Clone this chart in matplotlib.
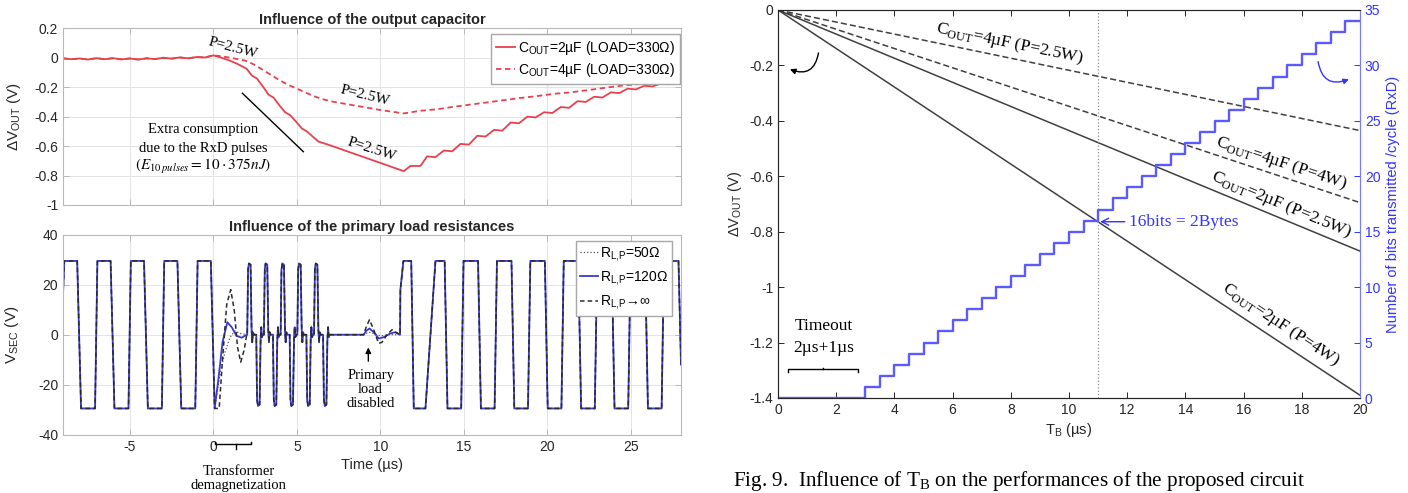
import numpy as np
import matplotlib
matplotlib.use("Agg")
import matplotlib.pyplot as plt

plt.rcParams["font.family"] = ["Liberation Sans", "DejaVu Sans"]
plt.rcParams["axes.unicode_minus"] = False
plt.rcParams["xtick.direction"] = "in"
plt.rcParams["ytick.direction"] = "in"

SERIF = ["Liberation Serif", "DejaVu Serif"]
RED = "#e8414e"
BLUE = "#3a3ad0"
BITS_BLUE = "#5a5aff"
AX_BLUE = "#3333ff"
TXT = "#262626"

# ---- top-left: influence of the output capacitor (dV_OUT in V vs time in us) ----
t_2uF = [-9, -8.5, -8, -7.5, -7, -6.5, -6, -5.5, -5, -4.5, -4, -3.5, -3, -2.5, -2, -1.5, -1, -0.5, 0,
         0.5, 1.0, 1.5, 2.0, 2.3, 2.6, 3.0, 3.3, 3.6, 4.0, 4.3, 4.6, 5.0, 5.3, 5.6, 6.0, 6.3, 6.6, 7.0,
         11.4, 11.8, 12.4, 12.8, 13.3, 13.8, 14.3, 14.8, 15.3, 15.8, 16.3, 16.8, 17.3, 17.8, 18.3,
         18.8, 19.3, 19.8, 20.3, 20.8, 21.3, 21.8, 22.3, 22.8, 23.3, 23.8, 24.3, 24.8, 25.3, 25.8,
         26.3, 26.8, 27.3, 27.8, 28.0]
dv_2uF = [-0.004, -0.01, -0.005, -0.012, -0.003, -0.01, -0.003, -0.011, -0.005, -0.012, -0.004, -0.009,
          0.0, -0.006, 0.002, -0.004, 0.005, 0.002, 0.016,
          0.0, -0.02, -0.045, -0.075, -0.12, -0.14, -0.2, -0.25, -0.27, -0.33, -0.37, -0.39, -0.44, -0.48,
          -0.5, -0.54, -0.57, -0.58, -0.595,
          -0.77, -0.735, -0.735, -0.67, -0.675, -0.63, -0.635, -0.585, -0.59, -0.53, -0.535, -0.49, -0.495,
          -0.44, -0.445, -0.4, -0.405, -0.37, -0.375, -0.335, -0.34, -0.295, -0.3, -0.265, -0.27, -0.235,
          -0.24, -0.21, -0.215, -0.19, -0.195, -0.175, -0.18, -0.16, -0.16]
t_4uF = [-9, -8.5, -8, -7.5, -7, -6.5, -6, -5.5, -5, -4.5, -4, -3.5, -3, -2.5, -2, -1.5, -1, -0.5, 0,
         0.5, 1.0, 1.5, 2.0, 2.5, 3.0, 3.5, 4.0, 4.5, 5.0, 5.5, 6.0, 6.5, 7.0, 8.0, 9.0, 10.0, 11.4,
         12.4, 13.4, 14.4, 15.4, 16.4, 17.4, 18.4, 19.4, 20.4, 21.4, 22.4, 23.4, 24.4, 25.4, 26.4, 27.4, 28.0]
dv_4uF = [-0.004, -0.01, -0.005, -0.012, -0.003, -0.01, -0.003, -0.011, -0.005, -0.012, -0.004, -0.009,
          0.0, -0.006, 0.002, -0.004, 0.005, 0.002, 0.016,
          0.01, 0.0, -0.01, -0.022, -0.05, -0.085, -0.12, -0.155, -0.185, -0.21, -0.235, -0.26, -0.28,
          -0.295, -0.315, -0.335, -0.355, -0.378,
          -0.36, -0.35, -0.333, -0.318, -0.303, -0.288, -0.273, -0.26, -0.245, -0.235, -0.22, -0.205,
          -0.19, -0.18, -0.165, -0.15, -0.14]

# ---- bottom-left: secondary voltage V_SEC (V) vs time (us) ----
t_pre = [-9.0, -8.92, -8.15, -7.92, -7.08, -6.94, -6.15, -5.92, -5.08, -4.94, -4.15, -3.92, -3.08, -2.94,
         -2.15, -1.92, -1.08, -0.94, -0.15, 0.08]
v_pre = [16, 29.5, 29.5, -29.5, -29.5, 29.5, 29.5, -29.5, -29.5, 29.5, 29.5, -29.5, -29.5, 29.5, 29.5,
         -29.5, -29.5, 29.5, 29.5, -29.5]

# RxD pulses: start times and pulse shape (offset in us, level in V)
pos_starts = [2.03, 3.03, 4.03, 5.03, 6.03]
neg_starts = [2.57, 3.57, 4.57, 5.57, 6.57]
pulse_dt = [0.0, 0.05, 0.1, 0.2, 0.26, 0.3, 0.34, 0.4]
pulse_v = [0.0, 26.0, 28.5, 28.0, 2.0, -3.0, 1.0, 0.0]

t_post = [11.18, 11.2, 11.38, 11.85, 12.0, 12.7, 13.3, 13.85, 14.02, 14.84, 14.98, 15.85, 16.02, 16.84,
          16.98, 17.85, 18.02, 18.84, 18.98, 19.85, 20.02, 20.84, 20.98, 21.85, 22.02, 22.84, 22.98,
          23.85, 24.02, 24.84, 24.98, 25.85, 26.02, 26.84, 26.98, 27.85, 28.0]
v_post = [0, 18, 29.5, 29.5, -29.5, -29.5, 29.5,
          29.5, -29.5, -29.5, 29.5, 29.5, -29.5, -29.5, 29.5, 29.5, -29.5, -29.5, 29.5,
          29.5, -29.5, -29.5, 29.5, 29.5, -29.5, -29.5, 29.5, 29.5, -29.5, -29.5, 29.5,
          29.5, -29.5, -29.5, 29.5, 29.5, -12]

# ringing after the transformer demagnetization (0..2 us) and when load is disabled (7..11.2 us)
ring1_t_50 = [0.08, 0.25, 0.45, 0.7, 1.0, 1.3, 1.6, 2.0]
ring1_v_50 = [-29.5, -22, -14, -7, -1, 1.5, 0.5, 0]
ring1_t_120 = [0.08, 0.3, 0.55, 0.84, 1.1, 1.4, 1.7, 2.0]
ring1_v_120 = [-29.5, -18, -3, 5, 3, -0.5, -1.2, 0]
ring1_t_inf = [0.08, 0.35, 0.55, 0.8, 1.04, 1.25, 1.45, 1.64, 1.85, 2.0]
ring1_v_inf = [-29.5, -29.5, -10, 12, 18, 10, -5, -11, -6, 0]

ring2_t_50 = [7.0, 9.0, 9.3, 9.6, 10.0, 10.5, 11.18]
ring2_v_50 = [0, 0, 1, 0.5, -0.5, 0, 0]
ring2_t_120 = [7.0, 9.0, 9.15, 9.35, 9.6, 9.9, 10.2, 10.6, 10.9, 11.18]
ring2_v_120 = [0, 0, 1.5, 2.5, 1, -1.5, -1, 0.5, 1, 0]
ring2_t_inf = [7.0, 9.0, 9.15, 9.35, 9.6, 9.9, 10.1, 10.4, 10.7, 10.9, 11.18]
ring2_v_inf = [0, 0, 3, 6, 2, -3.5, -3, 0, 2, 1, 0]

# ---- right: influence of T_B ----
tb_lin = [0, 20]
dv_4uF_25W = [0, -0.435]
dv_4uF_4W = [0, -0.695]
dv_2uF_25W = [0, -0.87]
dv_2uF_4W = [0, -1.39]
tb_step = [0, 3.0, 3.5, 4.0, 4.5, 5.0, 5.5, 6.0, 6.5, 7.0, 7.5, 8.0, 8.5, 9.0, 9.5, 10.0, 10.5, 11.0,
           11.5, 12.0, 12.5, 13.0, 13.5, 14.0, 14.5, 15.0, 15.5, 16.0, 16.5, 17.0, 17.5, 18.0, 18.5,
           19.0, 19.5, 20.0]
bits = [0, 1, 2, 3, 4, 5, 6, 7, 8, 9, 10, 11, 12, 13, 14, 15, 16, 17, 18, 19, 20, 21, 22, 23, 24, 25,
        26, 27, 28, 29, 30, 31, 32, 33, 34, 34]


def build_vsec(r1_t, r1_v, r2_t, r2_v):
    t = list(t_pre) + list(r1_t[1:])
    v = list(v_pre) + list(r1_v[1:])
    for s in sorted(pos_starts + neg_starts):
        sign = 1 if s in pos_starts else -1
        t += [s + d for d in pulse_dt]
        v += [sign * p for p in pulse_v]
    t += list(r2_t) + list(t_post[1:])
    v += list(r2_v) + list(v_post[1:])
    return t, v


W, H = 1408, 493


def box(l, t, r, b):
    return [l / W, 1 - b / H, (r - l) / W, (b - t) / H]


def matlab_style(ax, edge="#b8b8b8"):
    for sp in ax.spines.values():
        sp.set_color(edge)
        sp.set_linewidth(0.8)
    ax.tick_params(top=True, right=True, length=4, width=0.7, color=edge,
                   labelsize=10, labelcolor=TXT)
    ax.grid(True, color="#e4e4e4", lw=0.7)
    ax.set_axisbelow(True)


fig = plt.figure(figsize=(14.08, 4.93), dpi=100)

# ---------------- top-left ----------------
axc = fig.add_axes(box(63, 28.3, 681, 205))
axc.plot(t_2uF, dv_2uF, color=RED, lw=1.3, label="C$_\\mathregular{OUT}$=2µF (LOAD=330Ω)")
axc.plot(t_4uF, dv_4uF, color=RED, lw=1.3, ls=(0, (3, 2)), label="C$_\\mathregular{OUT}$=4µF (LOAD=330Ω)")
axc.set_xlim(-9, 28)
axc.set_ylim(-1, 0.2)
axc.set_xticks([-5, 0, 5, 10, 15, 20, 25])
axc.set_xticklabels([])
axc.set_yticks([0.2, 0, -0.2, -0.4, -0.6, -0.8, -1])
axc.set_yticklabels(["0.2", "0", "-0.2", "-0.4", "-0.6", "-0.8", "-1"])
matlab_style(axc)
axc.set_title("Influence of the output capacitor", fontsize=10.5, fontweight="bold", pad=3, color=TXT)
axc.set_ylabel("ΔV$_\\mathregular{OUT}$ (V)", fontsize=11, color=TXT, labelpad=8)
axc.legend(loc="upper right", bbox_to_anchor=(0.998, 0.965), fontsize=10, frameon=True,
           fancybox=False, edgecolor="#a8a8a8", framealpha=1, handlelength=1.4,
           handletextpad=0.2, labelspacing=0.25, borderpad=0.35, borderaxespad=0)

axc.text(1.17, 0.064, "P=2.5W", family=SERIF, fontsize=11, rotation=-15,
         ha="center", va="center", rotation_mode="anchor")
axc.text(9.1, -0.255, "P=2.5W", family=SERIF, fontsize=11, rotation=-14,
         ha="center", va="center", rotation_mode="anchor")
axc.text(9.46, -0.622, "P=2.5W", family=SERIF, fontsize=11, rotation=-18,
         ha="center", va="center", rotation_mode="anchor")
axc.text(-0.6, -0.49, "Extra consumption", family=SERIF, fontsize=10.5, ha="center", va="center")
axc.text(-0.6, -0.615, "due to the RxD pulses", family=SERIF, fontsize=10.5, ha="center", va="center")
axc.text(-0.6, -0.74, "$(E_{10\\,pulses} = 10\\cdot375nJ)$", fontsize=11, ha="center", va="center",
         math_fontfamily="stix")
axc.plot([1.74, 5.39], [-0.241, -0.638], color="k", lw=1.0)

# ---------------- bottom-left ----------------
axv = fig.add_axes(box(63, 234.7, 681, 434.7))
t50, v50 = build_vsec(ring1_t_50, ring1_v_50, ring2_t_50, ring2_v_50)
t120, v120 = build_vsec(ring1_t_120, ring1_v_120, ring2_t_120, ring2_v_120)
tinf, vinf = build_vsec(ring1_t_inf, ring1_v_inf, ring2_t_inf, ring2_v_inf)
axv.plot(t50, v50, color="#555555", lw=0.9, ls=":", label="R$_\\mathregular{L{,}P}$=50Ω")
axv.plot(t120, v120, color=BLUE, lw=1.3, label="R$_\\mathregular{L{,}P}$=120Ω")
axv.plot(tinf, vinf, color="#2a2a2a", lw=1.1, ls=(0, (3, 2)), label="R$_\\mathregular{L{,}P}$→∞")
axv.set_xlim(-9, 28)
axv.set_ylim(-40, 40)
axv.set_xticks([-5, 0, 5, 10, 15, 20, 25])
axv.set_yticks([-40, -20, 0, 20, 40])
matlab_style(axv)
axv.set_title("Influence of the primary load resistances", fontsize=10.5, fontweight="bold", pad=3, color=TXT)
axv.set_ylabel("V$_\\mathregular{SEC}$ (V)", fontsize=11, color=TXT, labelpad=12)
axv.set_xlabel("Time (µs)", fontsize=10.5, color=TXT, labelpad=3)
axv.legend(loc="upper right", bbox_to_anchor=(0.986, 0.97), fontsize=10, frameon=True,
           fancybox=False, edgecolor="#a8a8a8", framealpha=1, handlelength=1.3,
           handletextpad=0.15, labelspacing=0.45, borderpad=0.3, borderaxespad=0)

axv.annotate("", xy=(9.28, -4), xytext=(9.28, -11.7),
             arrowprops=dict(arrowstyle="-|>", color="k", lw=1.0, mutation_scale=8))
axv.text(9.42, -22, "Primary\nload\ndisabled", family=SERIF, fontsize=10.5, ha="center", va="center",
         linespacing=1.1)
axv.plot([0.1, 0.1, 2.25, 2.25], [-42.8, -43.7, -43.7, -42.8], color="k", lw=1.0, clip_on=False)
axv.plot([1.38, 1.38], [-43.7, -45.9], color="k", lw=1.0, clip_on=False)
axv.text(1.5, -57.5, "Transformer\ndemagnetization", family=SERIF, fontsize=10.5, ha="center",
         va="center", linespacing=1.1, clip_on=False)

# ---------------- right ----------------
ax = fig.add_axes(box(778, 10, 1360, 398))
ax2 = ax.twinx()
ax.plot(tb_lin, dv_4uF_25W, color="#404040", lw=1.1, ls=(0, (4, 2)))
ax.plot(tb_lin, dv_4uF_4W, color="#404040", lw=1.1, ls=(0, (4, 2)))
ax.plot(tb_lin, dv_2uF_25W, color="#404040", lw=1.1)
ax.plot(tb_lin, dv_2uF_4W, color="#404040", lw=1.1)
ax.axvline(11, color="#8a8a8a", lw=0.9, ls=":")
ax2.step(tb_step, bits, where="post", color=BITS_BLUE, lw=1.7)

ax.set_xlim(0, 20)
ax.set_ylim(-1.4, 0)
ax2.set_ylim(0, 35)
ax.set_xticks([0, 2, 4, 6, 8, 10, 12, 14, 16, 18, 20])
ax.set_yticks([0, -0.2, -0.4, -0.6, -0.8, -1, -1.2, -1.4])
ax.set_yticklabels(["0", "-0.2", "-0.4", "-0.6", "-0.8", "-1", "-1.2", "-1.4"])
ax2.set_yticks([0, 5, 10, 15, 20, 25, 30, 35])
for name in ["left", "bottom", "top"]:
    ax.spines[name].set_color(TXT)
    ax2.spines[name].set_color(TXT)
ax2.spines["right"].set_color("#7a7aff")
ax.spines["right"].set_color("#7a7aff")
ax.tick_params(top=True, length=4, width=0.7, color=TXT, labelsize=10, labelcolor=TXT)
ax2.tick_params(length=4, width=0.7, color=AX_BLUE, labelsize=10, labelcolor=AX_BLUE)
ax.set_ylabel("ΔV$_\\mathregular{OUT}$ (V)", fontsize=10.5, color=TXT, labelpad=4)
ax.set_xlabel("T$_\\mathregular{B}$ (µs)", fontsize=10.5, color=TXT, labelpad=3)
ax2.set_ylabel("Number of bits transmitted /cycle (RxD)", fontsize=10.5, color=AX_BLUE, labelpad=4)

labels = [
    (7.97, -0.121, dv_4uF_25W[1], "C$_\\mathregular{OUT}$=4µF (P=2.5W)"),
    (17.3, -0.553, dv_4uF_4W[1], "C$_\\mathregular{OUT}$=4µF (P=4W)"),
    (17.3, -0.70, dv_2uF_25W[1], "C$_\\mathregular{OUT}$=2µF (P=2.5W)"),
    (17.28, -1.133, dv_2uF_4W[1], "C$_\\mathregular{OUT}$=2µF (P=4W)"),
]
for x, y, end, s in labels:
    ax.text(x, y, s, family=SERIF, fontsize=12.5, ha="center", va="center",
            rotation=np.degrees(np.arctan2(end, 20)), transform_rotates_text=True,
            rotation_mode="anchor")

ax.annotate("16bits = 2Bytes", xy=(11.07, -0.764), xytext=(12.06, -0.764), family=SERIF,
            fontsize=12.5, color=AX_BLUE, ha="left", va="center",
            arrowprops=dict(arrowstyle="->", color=AX_BLUE, lw=1.0, shrinkA=1, shrinkB=0))
ax.text(1.58, -1.139, "Timeout", family=SERIF, fontsize=12.5, ha="center", va="center")
ax.text(1.58, -1.218, "2µs+1µs", family=SERIF, fontsize=12.5, ha="center", va="center")
ax.plot([0.35, 0.35, 2.76, 2.76], [-1.305, -1.297, -1.297, -1.305], color="k", lw=1.0)
ax.plot([1.54, 1.54], [-1.297, -1.29], color="k", lw=1.0)
ax.annotate("", xy=(0.41, -0.214), xytext=(1.39, -0.155),
            arrowprops=dict(arrowstyle="-|>", color="k", lw=1.0, mutation_scale=8,
                            connectionstyle="arc3,rad=-0.6", shrinkA=0, shrinkB=0))
ax.annotate("", xy=(19.62, -0.25), xytext=(18.56, -0.186),
            arrowprops=dict(arrowstyle="-|>", color=AX_BLUE, lw=1.0, mutation_scale=8,
                            connectionstyle="arc3,rad=0.6", shrinkA=0, shrinkB=0))

fig.text(733 / W, 1 - 481 / H, "Fig. 9.  Influence of T$_\\mathregular{B}$ on the performances of the proposed circuit",
         family=SERIF, fontsize=15.2, ha="left", va="center", color="k")

fig.savefig("out.png", dpi=100)
